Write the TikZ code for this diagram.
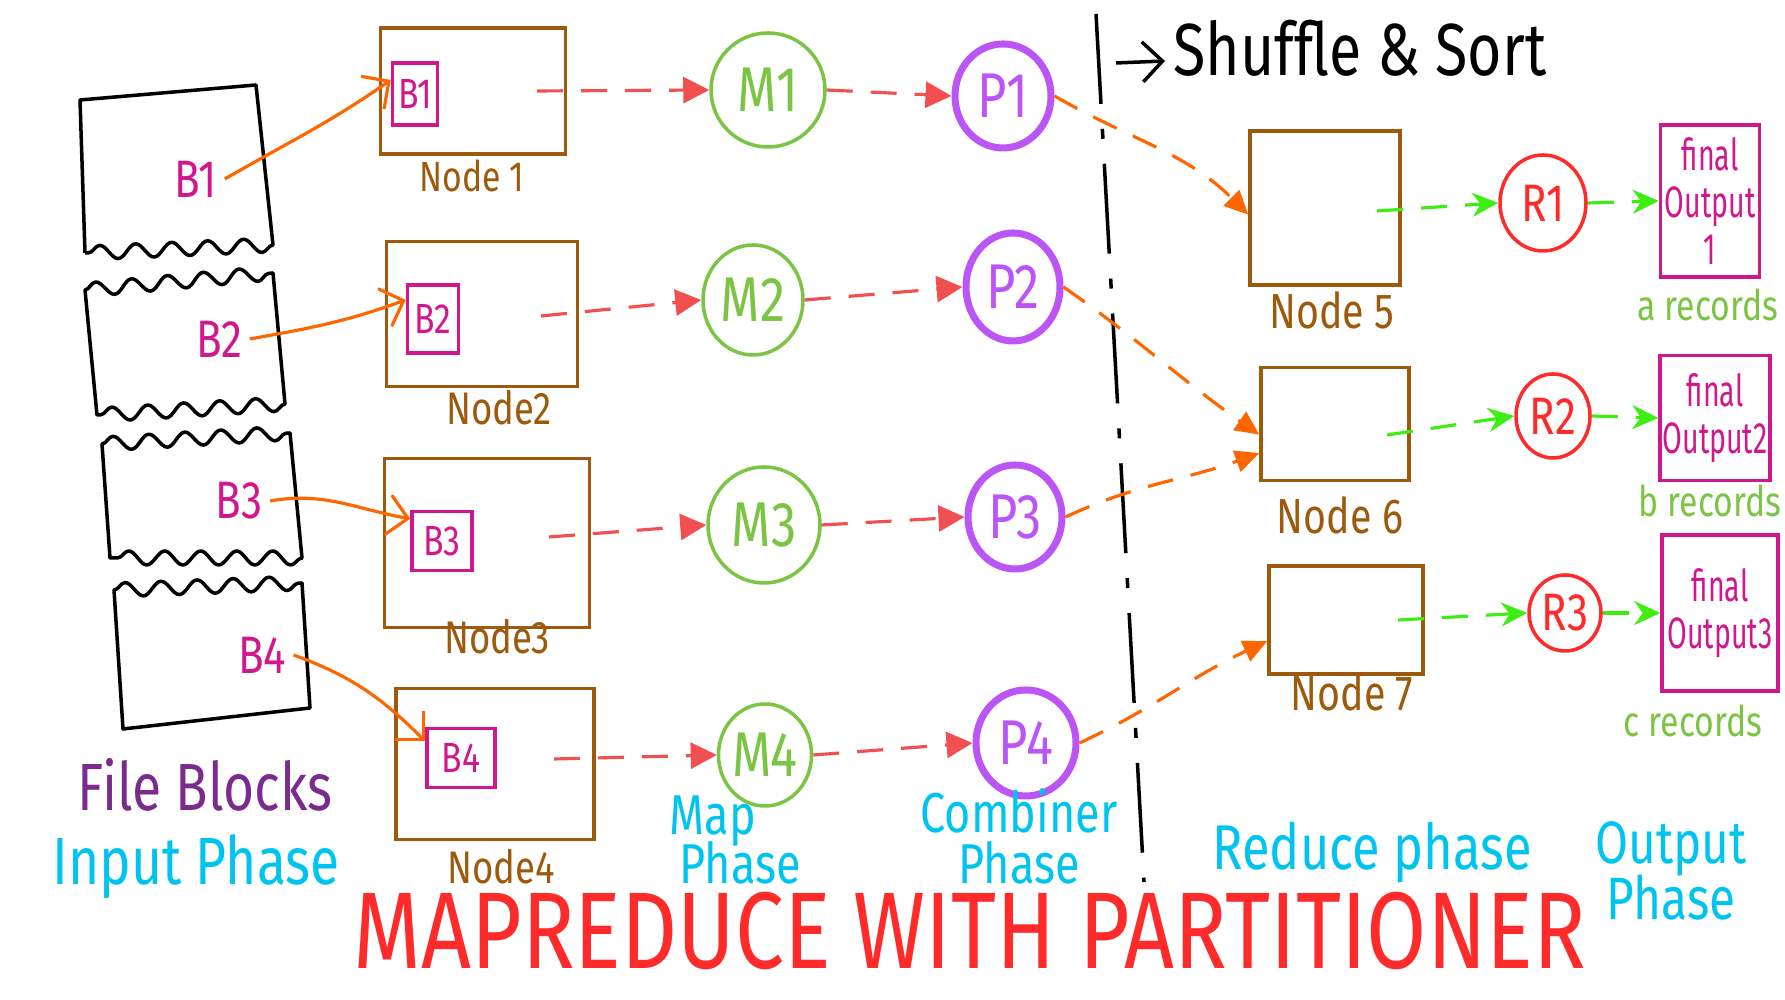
\documentclass[tikz,border=0pt]{standalone}
\usepackage{fontspec}
\setmainfont[FakeStretch=0.8]{Fira Sans}
\newfontfamily\titlefont[FakeStretch=0.8]{Fira Sans}
\newfontfamily\narrowfont[FakeStretch=0.65]{Fira Sans}
\usepackage{tikz}
\usetikzlibrary{arrows.meta,positioning,shapes.geometric,calc,decorations.pathmorphing}
\definecolor{MrBrown}{HTML}{9E5A0C}
\definecolor{MrPink}{HTML}{D0188C}
\definecolor{MrOrange}{HTML}{FF6600}
\definecolor{MrSalmon}{HTML}{F25050}
\definecolor{MrGreen}{HTML}{7CC444}
\definecolor{MrPurple}{HTML}{BB55F5}
\definecolor{MrRed}{HTML}{FF2A2A}
\definecolor{MrLime}{HTML}{3CEE11}
\definecolor{MrCyan}{HTML}{00C4F0}
\definecolor{MrPlum}{HTML}{7A2C8C}
\newcommand{\txtsize}[2]{\fontsize{#1}{#2}\selectfont\lineskiplimit=-20pt}

\begin{document}
\begin{tikzpicture}[
  every node/.style={inner sep=0pt},
  torn/.style={decoration={snake,amplitude=0.7mm,segment length=3.6mm}},
  blocklabel/.style={text=MrPink,inner sep=2pt,font=\txtsize{15}{17}},
  hostbox/.style={draw=MrBrown,line width=1pt},
  hostlabel/.style={text=MrBrown,font=\txtsize{13}{15}},
  blockbox/.style={draw=MrPink,line width=1pt,text=MrPink,font=\txtsize{12}{14}},
  mapper/.style={ellipse,draw=MrGreen,line width=1pt,text=MrGreen,font=\txtsize{18}{20}},
  combiner/.style={ellipse,draw=MrPurple,line width=2pt,text=MrPurple,font=\txtsize{18}{20}},
  reducer/.style={ellipse,draw=MrRed,line width=1pt,text=MrRed,font=\txtsize{15}{17}},
  outbox/.style={draw=MrPink,line width=1pt,text=MrPink,align=center,font=\narrowfont\txtsize{12.5}{13.5}},
  records/.style={text=MrGreen,font=\txtsize{12}{14}},
  phase/.style={text=MrCyan,align=center,font=\txtsize{16}{14.5}},
  feed/.style={-{Straight Barb[length=2mm]},draw=MrOrange,line width=0.9pt},
  mapflow/.style={-{Triangle[length=2.6mm,width=2.6mm]},draw=MrSalmon,line width=0.9pt,dash pattern=on 2.6mm off 1.8mm},
  shuffle/.style={-{Triangle[length=2.4mm,width=2.2mm]},draw=MrOrange,line width=0.9pt,dash pattern=on 2.6mm off 1.8mm},
  redflow/.style={-{Stealth[length=2.6mm,width=2.4mm]},draw=MrLime,line width=0.9pt,dash pattern=on 2.6mm off 1.8mm}
]
\useasboundingbox (0,0) rectangle (17.85,10);

% file blocks
\draw[line width=1pt,line join=round] (0.85,7.47) -- (0.80,9.00) -- (2.56,9.15) -- (2.73,7.55) decorate[torn]{-- (0.85,7.47)};
\draw[line width=1pt,line join=round] (0.85,7.10) decorate[torn]{-- (2.73,7.27)} -- (2.85,5.96) decorate[torn]{-- (0.97,5.85)} -- cycle;
\draw[line width=1pt,line join=round] (1.02,5.56) decorate[torn]{-- (2.90,5.67)} -- (3.02,4.42) decorate[torn]{-- (1.10,4.42)} -- cycle;
\draw[line width=1pt,line join=round] (1.14,4.10) decorate[torn]{-- (3.02,4.17)} -- (3.10,2.92) -- (1.23,2.71) -- cycle;
\node[blocklabel] (b1) at (1.96,8.21) {B1};
\node[blocklabel] (b2) at (2.19,6.61) {B2};
\node[blocklabel] (b3) at (2.39,4.99) {B3};
\node[blocklabel] (b4) at (2.62,3.45) {B4};
\node[text=MrPlum,font=\txtsize{19}{21}] (fb) at (2.05,2.15) {File Blocks};

% data nodes
\node[hostbox,minimum width=1.85cm,minimum height=1.26cm] (n1) at (4.73,9.09) {};
\node[hostbox,minimum width=1.91cm,minimum height=1.45cm] (n2) at (4.82,6.86) {};
\node[hostbox,minimum width=2.05cm,minimum height=1.69cm] (n3) at (4.87,4.57) {};
\node[hostbox,minimum width=1.98cm,minimum height=1.51cm] (n4) at (4.95,2.36) {};
\node[hostlabel,font=\txtsize{12}{14}] at (4.72,8.24) {Node 1};
\node[hostlabel] at (4.99,5.92) {Node2};
\node[hostlabel] at (4.97,3.63) {Node3};
\node[hostlabel] at (5.01,1.33) {Node4};
\node[blockbox,minimum width=0.45cm,minimum height=0.62cm] (ib1) at (4.15,9.06) {B1};
\node[blockbox,minimum width=0.51cm,minimum height=0.68cm] (ib2) at (4.33,6.81) {B2};
\node[blockbox,minimum width=0.60cm,minimum height=0.59cm] (ib3) at (4.42,4.59) {B3};
\node[blockbox,minimum width=0.68cm,minimum height=0.59cm] (ib4) at (4.61,2.42) {B4};
\coordinate (n1out) at (5.37,9.09);
\coordinate (n2out) at (5.41,6.84);
\coordinate (n3out) at (5.49,4.63);
\coordinate (n4out) at (5.54,2.41);

% mappers and combiners
\node[mapper,minimum width=1.14cm,minimum height=1.14cm] (m1) at (7.68,9.10) {M1};
\node[mapper,minimum width=1.00cm,minimum height=1.10cm] (m2) at (7.53,7.00) {M2};
\node[mapper,minimum width=1.12cm,minimum height=1.16cm] (m3) at (7.64,4.75) {M3};
\node[mapper,minimum width=0.92cm,minimum height=1.02cm] (m4) at (7.65,2.45) {M4};
\node[combiner,minimum width=0.96cm,minimum height=1.04cm] (p1) at (10.03,9.04) {P1};
\node[combiner,minimum width=0.94cm,minimum height=1.08cm] (p2) at (10.13,7.13) {P2};
\node[combiner,minimum width=0.94cm,minimum height=1.04cm] (p3) at (10.15,4.83) {P3};
\node[combiner,minimum width=1.00cm,minimum height=1.06cm] (p4) at (10.26,2.57) {P4};

% shuffle boundary
\coordinate (sepTop) at (10.96,9.86);
\coordinate (sepBot) at (11.44,1.18);
\draw[line width=1pt,dash pattern=on 9mm off 2.5mm on 1mm off 2.5mm] (sepTop) -- (sepBot);
\node[anchor=base west,font=\txtsize{21}{23}] (ss) at (11.73,9.24) {Shuffle \& Sort};
\coordinate (ssTail) at (11.16,9.37);
\draw[-{Straight Barb[length=2mm]},line width=1pt] (ssTail) -- ($(ss.base west)+(-0.08,0.15)$);

% reduce side
\node[hostbox,minimum width=1.50cm,minimum height=1.54cm] (n5) at (13.25,7.92) {};
\node[hostbox,minimum width=1.48cm,minimum height=1.13cm] (n6) at (13.35,5.76) {};
\node[hostbox,minimum width=1.54cm,minimum height=1.08cm] (n7) at (13.46,3.80) {};
\node[hostlabel,font=\txtsize{14}{16}] at (13.32,6.90) {Node 5};
\node[hostlabel,font=\txtsize{14}{16}] at (13.40,4.85) {Node 6};
\node[hostlabel,font=\txtsize{14}{16}] at (13.52,3.08) {Node 7};
\coordinate (n5out) at (13.77,7.89);
\coordinate (n6out) at (13.87,5.65);
\coordinate (n7out) at (13.98,3.80);
\node[reducer,minimum width=0.86cm,minimum height=0.96cm] (r1) at (15.43,7.97) {R1};
\node[reducer,minimum width=0.74cm,minimum height=0.84cm] (r2) at (15.53,5.84) {R2};
\node[reducer,minimum width=0.72cm,minimum height=0.76cm] (r3) at (15.65,3.87) {R3};
\node[outbox,minimum width=0.99cm,minimum height=1.52cm] (fo1) at (17.10,7.99) {final\\Output\\1};
\node[outbox,minimum width=1.10cm,minimum height=1.25cm] (fo2) at (17.15,5.82) {final\\Output2};
\node[outbox,minimum width=1.16cm,minimum height=1.56cm] (fo3) at (17.20,3.87) {final\\Output3};
\node[records] at (17.08,6.95) {a records};
\node[records] at (17.10,4.99) {b records};
\node[records] at (16.93,2.79) {c records};

% flows
\draw[feed] (b1.east) to[out=30,in=215] (ib1.150);
\draw[feed] (b2.east) to[out=10,in=200] (ib2.145);
\draw[feed] (b3.east) to[out=10,in=170] (ib3.145);
\draw[feed] (b4.east) to[out=-20,in=135] (ib4.155);
\draw[mapflow] (n1out) -- (m1.west);
\draw[mapflow] (n2out) -- (m2.west);
\draw[mapflow] (n3out) -- (m3.west);
\draw[mapflow] (n4out) -- (m4.west);
\draw[mapflow] (m1.east) -- (p1.west);
\draw[mapflow] (m2.east) -- (p2.west);
\draw[mapflow] (m3.east) -- (p3.west);
\draw[mapflow] (m4.east) -- (p4.west);
\draw[shuffle] (p1.east) to[out=-30,in=135] (n5.185);
\draw[shuffle] (p2.east) to[out=-35,in=145] (n6.188);
\draw[shuffle] (p3.east) to[out=25,in=200] (n6.201);
\draw[shuffle] (p4.east) to[out=25,in=205] (n7.195);
\draw[redflow] (n5out) -- (r1.west);
\draw[redflow] (n6out) -- (r2.west);
\draw[redflow] (n7out) -- (r3.west);
\draw[redflow] (r1.east) -- (fo1.west);
\draw[redflow] (r2.east) -- (fo2.west);
\draw[redflow] (r3.east) -- (fo3.west);

% phase captions
\node[phase,font=\txtsize{19}{21}] at (1.96,1.33) {Input Phase};
\node[phase,align=left,anchor=west,font=\txtsize{16}{14}] at (6.69,1.60) {Map\\\hspace*{0.1cm}Phase};
\node[phase] at (10.19,1.64) {Combiner\\Phase};
\node[phase,font=\txtsize{17}{16}] at (16.71,1.29) {Output\\Phase};
\node[phase,font=\txtsize{18}{20}] at (13.72,1.47) {Reduce phase};
\node[anchor=base,text=MrRed,font=\titlefont\txtsize{31}{33}] (title) at (9.70,0.31) {MAPREDUCE WITH PARTITIONER};
\end{tikzpicture}
\end{document}
